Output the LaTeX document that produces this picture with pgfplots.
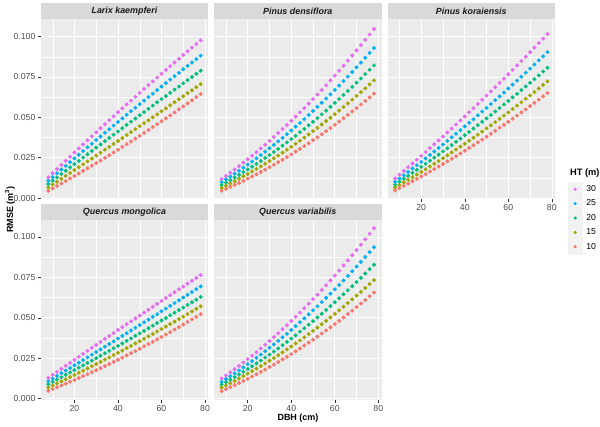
\documentclass[border=0pt]{standalone}
\usepackage{pgfplots}
\pgfplotsset{compat=1.18}
\usepackage{pgfplotstable}
\usepackage{fontspec}
\setmainfont{Liberation Sans}
\definecolor{c10}{HTML}{F8766D}
\definecolor{c15}{HTML}{A3A500}
\definecolor{c20}{HTML}{00BF7D}
\definecolor{c25}{HTML}{00B0F6}
\definecolor{c30}{HTML}{E76BF3}
\definecolor{panelbg}{HTML}{EBEBEB}
\definecolor{stripbg}{HTML}{D9D9D9}
\definecolor{grey30}{HTML}{4D4D4D}
\definecolor{grey20}{HTML}{333333}
\definecolor{grey10}{HTML}{1A1A1A}
\definecolor{keybg}{HTML}{F2F2F2}

\pgfplotstableread{
D h10 h15 h20 h25 h30
8 0.0045 0.0066 0.0087 0.0107 0.0128
10 0.0060 0.0084 0.0108 0.0130 0.0154
12 0.0075 0.0101 0.0128 0.0153 0.0180
14 0.0090 0.0119 0.0149 0.0176 0.0205
16 0.0105 0.0137 0.0169 0.0199 0.0231
18 0.0121 0.0155 0.0190 0.0222 0.0256
20 0.0136 0.0173 0.0210 0.0245 0.0282
22 0.0152 0.0191 0.0230 0.0268 0.0307
24 0.0168 0.0209 0.0251 0.0291 0.0332
26 0.0184 0.0227 0.0271 0.0314 0.0358
28 0.0200 0.0244 0.0291 0.0336 0.0382
30 0.0216 0.0263 0.0312 0.0359 0.0407
32 0.0232 0.0281 0.0332 0.0381 0.0432
34 0.0249 0.0299 0.0352 0.0404 0.0457
36 0.0265 0.0317 0.0372 0.0426 0.0482
38 0.0282 0.0335 0.0392 0.0449 0.0506
40 0.0299 0.0353 0.0412 0.0471 0.0531
42 0.0316 0.0371 0.0432 0.0493 0.0555
44 0.0333 0.0390 0.0453 0.0515 0.0579
46 0.0350 0.0408 0.0473 0.0537 0.0603
48 0.0368 0.0426 0.0492 0.0559 0.0627
50 0.0385 0.0445 0.0512 0.0581 0.0651
52 0.0403 0.0463 0.0532 0.0603 0.0675
54 0.0421 0.0481 0.0552 0.0625 0.0699
56 0.0439 0.0500 0.0572 0.0646 0.0722
58 0.0457 0.0518 0.0592 0.0668 0.0746
60 0.0475 0.0537 0.0612 0.0690 0.0769
62 0.0493 0.0555 0.0631 0.0711 0.0793
64 0.0511 0.0574 0.0651 0.0733 0.0816
66 0.0530 0.0593 0.0671 0.0754 0.0839
68 0.0549 0.0611 0.0690 0.0775 0.0862
70 0.0567 0.0630 0.0710 0.0797 0.0885
72 0.0586 0.0649 0.0730 0.0818 0.0908
74 0.0605 0.0667 0.0749 0.0839 0.0931
76 0.0625 0.0686 0.0769 0.0860 0.0953
78 0.0644 0.0705 0.0788 0.0881 0.0976
}\tabLK

\pgfplotstableread{
D h10 h15 h20 h25 h30
8 0.0045 0.0063 0.0081 0.0099 0.0118
10 0.0057 0.0076 0.0096 0.0116 0.0137
12 0.0069 0.0090 0.0111 0.0133 0.0157
14 0.0081 0.0104 0.0127 0.0151 0.0177
16 0.0093 0.0119 0.0143 0.0169 0.0198
18 0.0106 0.0134 0.0160 0.0188 0.0219
20 0.0120 0.0149 0.0177 0.0207 0.0240
22 0.0133 0.0164 0.0194 0.0226 0.0262
24 0.0147 0.0180 0.0211 0.0246 0.0284
26 0.0161 0.0196 0.0229 0.0266 0.0307
28 0.0176 0.0212 0.0248 0.0287 0.0330
30 0.0191 0.0229 0.0266 0.0308 0.0354
32 0.0206 0.0246 0.0285 0.0329 0.0378
34 0.0222 0.0263 0.0304 0.0351 0.0402
36 0.0237 0.0281 0.0324 0.0373 0.0427
38 0.0254 0.0299 0.0344 0.0395 0.0452
40 0.0270 0.0317 0.0365 0.0418 0.0478
42 0.0287 0.0336 0.0385 0.0442 0.0504
44 0.0304 0.0355 0.0407 0.0465 0.0530
46 0.0322 0.0374 0.0428 0.0489 0.0557
48 0.0339 0.0394 0.0450 0.0514 0.0585
50 0.0358 0.0414 0.0472 0.0539 0.0612
52 0.0376 0.0434 0.0495 0.0564 0.0641
54 0.0395 0.0455 0.0518 0.0590 0.0669
56 0.0414 0.0476 0.0541 0.0616 0.0698
58 0.0433 0.0497 0.0565 0.0642 0.0728
60 0.0453 0.0519 0.0589 0.0669 0.0758
62 0.0473 0.0541 0.0613 0.0696 0.0788
64 0.0494 0.0563 0.0638 0.0724 0.0819
66 0.0515 0.0586 0.0663 0.0752 0.0850
68 0.0536 0.0609 0.0688 0.0780 0.0882
70 0.0557 0.0632 0.0714 0.0809 0.0914
72 0.0579 0.0655 0.0740 0.0838 0.0946
74 0.0601 0.0679 0.0767 0.0868 0.0979
76 0.0623 0.0703 0.0794 0.0898 0.1012
78 0.0646 0.0728 0.0821 0.0928 0.1046
}\tabPD

\pgfplotstableread{
D h10 h15 h20 h25 h30
8 0.0047 0.0066 0.0083 0.0101 0.0122
10 0.0061 0.0081 0.0101 0.0121 0.0145
12 0.0075 0.0097 0.0119 0.0141 0.0168
14 0.0089 0.0113 0.0137 0.0162 0.0191
16 0.0104 0.0129 0.0156 0.0183 0.0214
18 0.0118 0.0145 0.0174 0.0203 0.0237
20 0.0133 0.0161 0.0193 0.0224 0.0261
22 0.0148 0.0178 0.0212 0.0245 0.0285
24 0.0164 0.0195 0.0231 0.0267 0.0309
26 0.0179 0.0212 0.0250 0.0288 0.0333
28 0.0195 0.0229 0.0269 0.0310 0.0357
30 0.0211 0.0246 0.0289 0.0331 0.0381
32 0.0227 0.0264 0.0308 0.0353 0.0406
34 0.0243 0.0282 0.0328 0.0376 0.0430
36 0.0259 0.0300 0.0348 0.0398 0.0455
38 0.0276 0.0318 0.0368 0.0420 0.0480
40 0.0293 0.0336 0.0389 0.0443 0.0505
42 0.0310 0.0355 0.0409 0.0466 0.0531
44 0.0327 0.0373 0.0430 0.0488 0.0556
46 0.0345 0.0392 0.0451 0.0512 0.0582
48 0.0362 0.0411 0.0472 0.0535 0.0608
50 0.0380 0.0431 0.0493 0.0558 0.0634
52 0.0398 0.0450 0.0514 0.0582 0.0660
54 0.0416 0.0470 0.0536 0.0606 0.0686
56 0.0435 0.0490 0.0557 0.0629 0.0713
58 0.0453 0.0510 0.0579 0.0653 0.0739
60 0.0472 0.0530 0.0601 0.0678 0.0766
62 0.0491 0.0551 0.0623 0.0702 0.0793
64 0.0510 0.0572 0.0645 0.0727 0.0820
66 0.0530 0.0593 0.0668 0.0751 0.0848
68 0.0549 0.0614 0.0691 0.0776 0.0875
70 0.0569 0.0635 0.0713 0.0801 0.0903
72 0.0589 0.0656 0.0736 0.0826 0.0931
74 0.0609 0.0678 0.0759 0.0852 0.0959
76 0.0629 0.0700 0.0783 0.0877 0.0987
78 0.0650 0.0722 0.0806 0.0903 0.1015
}\tabPK

\pgfplotstableread{
D h10 h15 h20 h25 h30
8 0.0048 0.0068 0.0089 0.0108 0.0128
10 0.0059 0.0081 0.0103 0.0124 0.0147
12 0.0070 0.0094 0.0118 0.0140 0.0165
14 0.0081 0.0106 0.0132 0.0157 0.0184
16 0.0092 0.0119 0.0147 0.0173 0.0203
18 0.0104 0.0133 0.0161 0.0189 0.0221
20 0.0115 0.0146 0.0176 0.0206 0.0240
22 0.0127 0.0159 0.0191 0.0222 0.0258
24 0.0139 0.0172 0.0205 0.0238 0.0277
26 0.0151 0.0186 0.0220 0.0255 0.0295
28 0.0163 0.0200 0.0235 0.0271 0.0314
30 0.0175 0.0213 0.0250 0.0288 0.0332
32 0.0188 0.0227 0.0265 0.0304 0.0351
34 0.0201 0.0241 0.0280 0.0321 0.0369
36 0.0214 0.0255 0.0295 0.0338 0.0387
38 0.0227 0.0269 0.0311 0.0354 0.0405
40 0.0240 0.0283 0.0326 0.0371 0.0424
42 0.0253 0.0297 0.0341 0.0388 0.0442
44 0.0267 0.0312 0.0357 0.0404 0.0460
46 0.0281 0.0326 0.0372 0.0421 0.0478
48 0.0294 0.0341 0.0388 0.0438 0.0496
50 0.0308 0.0355 0.0403 0.0455 0.0514
52 0.0323 0.0370 0.0419 0.0472 0.0532
54 0.0337 0.0385 0.0435 0.0489 0.0550
56 0.0351 0.0400 0.0451 0.0506 0.0568
58 0.0366 0.0415 0.0467 0.0522 0.0586
60 0.0381 0.0430 0.0483 0.0540 0.0604
62 0.0396 0.0445 0.0498 0.0557 0.0622
64 0.0411 0.0461 0.0515 0.0574 0.0640
66 0.0427 0.0476 0.0531 0.0591 0.0658
68 0.0442 0.0492 0.0547 0.0608 0.0676
70 0.0458 0.0507 0.0563 0.0625 0.0693
72 0.0474 0.0523 0.0580 0.0642 0.0711
74 0.0490 0.0539 0.0596 0.0659 0.0729
76 0.0506 0.0555 0.0612 0.0677 0.0746
78 0.0522 0.0571 0.0629 0.0694 0.0764
}\tabQM

\pgfplotstableread{
D h10 h15 h20 h25 h30
8 0.0046 0.0068 0.0087 0.0104 0.0124
10 0.0058 0.0081 0.0102 0.0121 0.0143
12 0.0070 0.0095 0.0117 0.0138 0.0162
14 0.0083 0.0109 0.0133 0.0156 0.0182
16 0.0096 0.0124 0.0149 0.0174 0.0202
18 0.0109 0.0139 0.0166 0.0193 0.0223
20 0.0122 0.0154 0.0183 0.0213 0.0244
22 0.0136 0.0169 0.0200 0.0232 0.0265
24 0.0150 0.0185 0.0217 0.0252 0.0287
26 0.0165 0.0201 0.0235 0.0272 0.0310
28 0.0179 0.0217 0.0254 0.0293 0.0333
30 0.0195 0.0234 0.0272 0.0314 0.0356
32 0.0210 0.0251 0.0291 0.0335 0.0380
34 0.0226 0.0268 0.0310 0.0357 0.0404
36 0.0242 0.0286 0.0330 0.0379 0.0429
38 0.0258 0.0304 0.0350 0.0401 0.0454
40 0.0275 0.0322 0.0371 0.0424 0.0480
42 0.0292 0.0341 0.0391 0.0448 0.0506
44 0.0310 0.0360 0.0414 0.0472 0.0532
46 0.0328 0.0379 0.0435 0.0496 0.0559
48 0.0346 0.0399 0.0457 0.0521 0.0587
50 0.0364 0.0419 0.0479 0.0546 0.0615
52 0.0383 0.0439 0.0502 0.0571 0.0643
54 0.0402 0.0460 0.0525 0.0597 0.0672
56 0.0421 0.0481 0.0548 0.0623 0.0701
58 0.0441 0.0502 0.0572 0.0649 0.0731
60 0.0461 0.0524 0.0596 0.0676 0.0761
62 0.0481 0.0546 0.0620 0.0703 0.0792
64 0.0502 0.0568 0.0645 0.0731 0.0823
66 0.0523 0.0591 0.0670 0.0759 0.0855
68 0.0544 0.0614 0.0695 0.0788 0.0887
70 0.0566 0.0637 0.0721 0.0817 0.0919
72 0.0588 0.0660 0.0747 0.0846 0.0952
74 0.0610 0.0684 0.0774 0.0876 0.0986
76 0.0633 0.0708 0.0801 0.0906 0.1020
78 0.0656 0.0733 0.0828 0.0936 0.1054
}\tabQV

\pgfplotsset{
  panel/.style={
    scale only axis, width=167.6pt, height=180pt, anchor=south west,
    xmin=4.5, xmax=81.5, ymin=-0.0009, ymax=0.1105,
    axis background/.style={fill=panelbg},
    axis line style={draw=none},
    grid=both,
    major grid style={white, line width=0.6pt},
    minor grid style={white, line width=0.3pt},
    xtick={20,40,60,80}, minor xtick={10,30,50,70},
    ytick={0,0.025,0.05,0.075,0.1}, minor ytick={0.0125,0.0375,0.0625,0.0875},
    xticklabels={}, yticklabels={},
    tick pos=left, tick align=outside,
    major tick length=2.75pt, minor tick length=0pt,
    xtick style={draw=none}, ytick style={draw=none},
    tick label style={font=\fontsize{8.7}{10}\selectfont, text=grey30, inner sep=0pt},
    xticklabel shift=2.4pt, yticklabel shift=2.4pt,
  },
  xax/.style={xticklabels={20,40,60,80}, xtick style={draw=grey20, line width=0.5pt}},
  yax/.style={yticklabels={0.000,0.025,0.050,0.075,0.100}, ytick style={draw=grey20, line width=0.5pt}},
  s10/.style={only marks, mark=*, mark size=1.8pt, color=c10, mark options={draw=none}},
  s15/.style={only marks, mark=*, mark size=1.8pt, color=c15, mark options={draw=none}},
  s20/.style={only marks, mark=*, mark size=1.8pt, color=c20, mark options={draw=none}},
  s25/.style={only marks, mark=*, mark size=1.8pt, color=c25, mark options={draw=none}},
  s30/.style={only marks, mark=*, mark size=1.8pt, color=c30, mark options={draw=none}},
}

\newcommand{\strip}[3]{%
  \fill[stripbg] (#1pt,#2pt) rectangle ({#1pt+167.6pt},{#2pt+16pt});
  \node[font=\fontsize{8.9}{10}\selectfont\bfseries\itshape, text=grey10, anchor=center]
    at ({#1pt+83.8pt},{#2pt+8pt}) {#3};
}

\begin{document}
\begin{tikzpicture}
\useasboundingbox (0,0) rectangle (600pt,426pt);

% Row 1
\begin{axis}[panel, yax, at={(40.7pt,226.5pt)}]
\addplot[s10] table[x=D,y=h10]{\tabLK};
\addplot[s15] table[x=D,y=h15]{\tabLK};
\addplot[s20] table[x=D,y=h20]{\tabLK};
\addplot[s25] table[x=D,y=h25]{\tabLK};
\addplot[s30] table[x=D,y=h30]{\tabLK};
\end{axis}

\begin{axis}[panel, at={(214pt,226.5pt)}]
\addplot[s10] table[x=D,y=h10]{\tabPD};
\addplot[s15] table[x=D,y=h15]{\tabPD};
\addplot[s20] table[x=D,y=h20]{\tabPD};
\addplot[s25] table[x=D,y=h25]{\tabPD};
\addplot[s30] table[x=D,y=h30]{\tabPD};
\end{axis}

\begin{axis}[panel, xax, at={(387.5pt,226.5pt)},
  reverse legend,
  legend style={at={(axis description cs:1.077,0.0972)}, anchor=north west,
    draw=none, fill=none, inner sep=0pt, outer sep=0pt, row sep=0pt,
    font=\fontsize{8.7}{10}\selectfont, text=black,
    nodes={inner sep=0pt, anchor=west}},
  legend image code/.code={%
    \fill[keybg] (0pt,-7pt) rectangle (14pt,7pt);
    \draw[only marks, mark size=1.4pt] plot coordinates {(7pt,0pt)};
  }]
\addplot[s10] table[x=D,y=h10]{\tabPK};
\addlegendentry{\hspace{4pt}10}
\addplot[s15] table[x=D,y=h15]{\tabPK};
\addlegendentry{\hspace{4pt}15}
\addplot[s20] table[x=D,y=h20]{\tabPK};
\addlegendentry{\hspace{4pt}20}
\addplot[s25] table[x=D,y=h25]{\tabPK};
\addlegendentry{\hspace{4pt}25}
\addplot[s30] table[x=D,y=h30]{\tabPK};
\addlegendentry{\hspace{4pt}30}
\end{axis}

% Row 2
\begin{axis}[panel, xax, yax, at={(40.7pt,26pt)}]
\addplot[s10] table[x=D,y=h10]{\tabQM};
\addplot[s15] table[x=D,y=h15]{\tabQM};
\addplot[s20] table[x=D,y=h20]{\tabQM};
\addplot[s25] table[x=D,y=h25]{\tabQM};
\addplot[s30] table[x=D,y=h30]{\tabQM};
\end{axis}

\begin{axis}[panel, xax, at={(214pt,26pt)}]
\addplot[s10] table[x=D,y=h10]{\tabQV};
\addplot[s15] table[x=D,y=h15]{\tabQV};
\addplot[s20] table[x=D,y=h20]{\tabQV};
\addplot[s25] table[x=D,y=h25]{\tabQV};
\addplot[s30] table[x=D,y=h30]{\tabQV};
\end{axis}

% strips
\strip{40.7}{406.5}{Larix kaempferi}
\strip{214}{406.5}{Pinus densiflora}
\strip{387.5}{406.5}{Pinus koraiensis}
\strip{40.7}{206}{Quercus mongolica}
\strip{214}{206}{Quercus variabilis}

% axis titles
\node[rotate=90, font=\fontsize{9}{10}\selectfont\bfseries, text=black] at (10pt,216.25pt) {RMSE (m\textsuperscript{3})};
\node[font=\fontsize{9}{10}\selectfont\bfseries, text=black] at (298pt,8pt) {DBH (cm)};
\node[anchor=west, font=\fontsize{9.3}{10}\selectfont\bfseries, text=black] at (566.5pt,253pt) {HT (m)};
\end{tikzpicture}
\end{document}
